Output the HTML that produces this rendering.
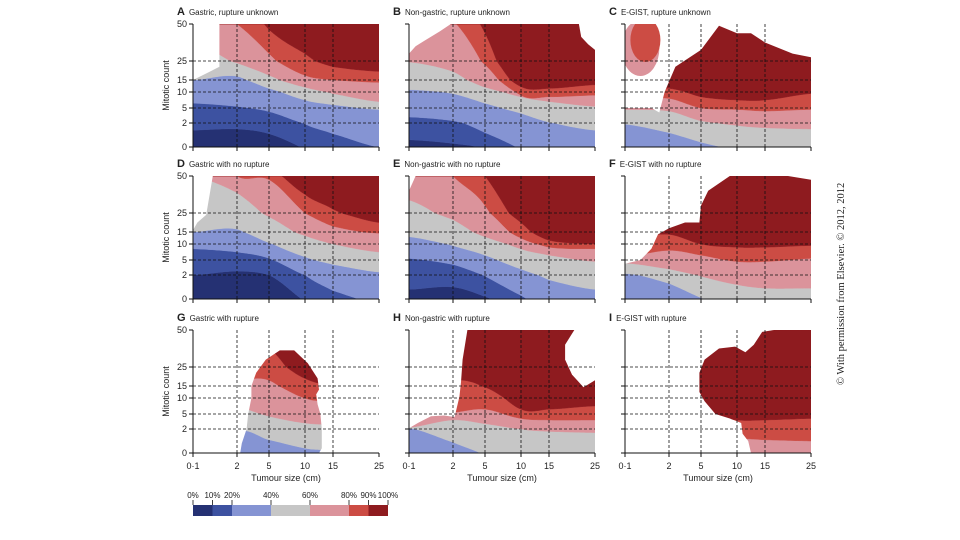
<!DOCTYPE html>
<html><head><meta charset="utf-8">
<style>
html,body{margin:0;padding:0;background:#fff;}
svg{display:block;font-family:"Liberation Sans",sans-serif;}
</style></head>
<body>
<svg id="fig" width="960" height="540" viewBox="0 0 960 540">
<g id="plots"></g>
<g id="legend"></g>
<text transform="translate(844,385) rotate(-90)" font-family="Liberation Serif, serif" font-size="10.5" fill="#222">© With permission from Elsevier.  © 2012, 2012</text>
</svg>
<script>
// x categories (tumour size) and y categories (mitotic count)
const xTickLabels = ["0·1","2","5","10","15","25"];
const yTickLabels = ["0","2","5","10","15","25","50"];
// risk thresholds and colours
const legendLabels = ["0%","10%","20%","40%","60%","80%","90%","100%"];
const legendStops = [0,10,20,40,60,80,90,100];
const bandColors = ["#253173","#3d52a1","#8594d3","#c6c6c6","#db939b","#cc4c44","#8e1b1f"];

// Boundary curves (mitotic-count index 0..6) at each tumour-size tick, for 10/20/40/60/80/90% thresholds
const boundsA = [[0.7,0.75,0.55,-0.1,-1,-1],[2.3,2.1,1.76,0.96,0.55,0],[4.0,4.2,3.3,2.5,2.2,1.9],[5.5,4.9,4.25,3.4,2.9,2.4],[6.5,6.0,5.2,4.25,4.0,3.8],[8,7,5.85,5.2,4.7,4.45]];
const boundsB = [[0.3,0.15,-0.1,-1,-1,-1],[1.4,1.15,0.6,-0.1,-1,-1],[3.2,2.9,2.3,1.65,1.05,0.7],[4.95,4.45,3.4,2.7,2.4,2.1],[6.5,6.1,4.8,2.8,2.7,2.8],[8,7,5.75,3.45,3.3,3.6]];
const boundsC = [[-1,-1,-1,-1,-1,-1],[-1,-1,-1,-1,-1,-1],[0.95,0.6,0.2,-0.2,-1,-1],[1.9,1.8,1.15,0.9,0.8,0.75],[2.6,2.6,2.0,1.9,1.8,1.9],[3.2,3.3,2.7,2.5,2.5,2.9]];
const boundsD = [[1.0,1.25,1.0,-0.1,-1,-1],[2.7,2.5,2.1,1.0,0.35,-0.2],[4.0,4.15,3.1,2.2,1.7,1.2],[6,5.55,4.8,3.7,3.0,2.5],[7,6.0,5.9,5.0,4.3,3.9],[8,7,6.3,5.5,5.1,4.5]];
const boundsE = [[0.4,0.5,0.1,-0.5,-1,-1],[2.1,1.7,0.95,0.15,-0.5,-1],[3.6,2.9,2.3,1.4,0.8,0.4],[5.35,4.65,3.6,2.7,2.3,1.9],[7,6.0,5.2,3.5,2.8,2.7],[8,7,6.0,4.5,3.3,3.0]];
const boundsF = [[-1,-1,-1,-1,-1,-1],[-1,-1,-1,-1,-1,-1],[1.1,0.65,0.05,-0.5,-1,-1],[1.8,1.4,0.95,0.6,0.45,0.45],[2.2,2.6,2.3,1.9,1.9,2.1],[3.5,3.8,3.0,2.8,2.8,2.9]];
const boundsG = [[-1,-1,-1,-1,-1,-1],[-1,-1,-1,-1,-1,-1],[-1,0.85,0.55,0.2,0,-1],[3,2.5,1.85,1.4,1.3,1.3],[5,4.4,4.3,3.0,2.8,2.6],[6,5.6,5.5,4.4,4.0,3.8]];
const boundsH = [[-1,-1,-1,-1,-1,-1],[-1,-1,-1,-1,-1,-1],[1.05,0.45,-0.1,-1,-1,-1],[1.1,1.6,1.35,1.0,0.9,0.85],[2,2.1,2.3,1.7,1.6,1.6],[3.5,4.3,3.9,2.3,2.3,2.5]];
const boundsI = [[-1,-1,-1,-1,-1,-1],[-1,-1,-1,-1,-1,-1],[-1,-1,-1,-1,-1,-1],[-1,-1,-1,-1,-1,-1],[0.5,0.5,0.5,0.6,0.55,0.5],[2,2,2.0,1.6,1.6,1.7]];

// white (no data) regions, [xIndex, yIndex]
const maskA = [[[0,6],[0.6,6],[0.6,4.7],[0.35,4.4],[0,4.0]]];
const maskB = [[[0,6],[0.95,6],[0.7,5.8],[0.35,5.55],[0.15,5.4],[0,5.2]],[[4.65,6],[5,6],[5,5.3],[4.85,5.45],[4.7,5.65]]];
const maskC = [[[0,2.0],[0,6],[5,6],[5,5.1],[4.6,5.2],[4.0,5.5],[3.5,5.75],[3.0,5.75],[2.5,5.95],[2.0,5.3],[1.2,4.7],[0.9,3.0],[0.78,1.7],[0.6,2.0]]];
const maskD = [[[0,6],[0.45,6],[0.3,4.9],[0.1,4.5],[0,4.1]]];
const maskE = [[[0,6],[0.15,6],[0,5.6]]];
const maskF = [[[0,1.75],[0,6],[5,6],[5,5.9],[4.5,6],[2.8,6],[2.2,5.6],[2.0,5.2],[1.95,4.5],[1.5,4.5],[1.0,4.2],[0.75,3.8],[0.6,2.7],[0.35,2.0]]];
const maskH = [[[0,6],[1.45,6],[1.3,5.2],[1.25,4.2],[1.2,3.1],[1.05,1.8],[0.8,1.9],[0.5,1.85],[0.2,1.4],[0,1.05]],[[4.55,6],[5,6],[5,4.3],[4.75,3.9],[4.5,4.6],[4.35,5.2],[4.35,5.6]]];
// data regions (clip) for G and I
const regionG = [[1.1,0],[1.15,0.4],[1.3,1.0],[1.35,2.0],[1.45,3.0],[1.45,4.0],[1.6,4.7],[1.9,5.2],[2.3,5.45],[2.7,5.45],[3.1,5.1],[3.45,4.4],[3.5,3.7],[3.4,3.3],[3.45,2.6],[3.55,2.0],[3.6,1.0],[3.6,0.2],[3.5,0]];
const regionI = [[1.95,4.7],[2.1,5.2],[2.5,5.5],[2.95,5.55],[3.3,5.4],[3.6,5.6],[3.9,5.95],[4.2,6],[5,6],[5,0],[3.5,0],[3.4,0.5],[3.2,0.8],[3.15,1.4],[2.8,1.7],[2.4,2.0],[2.1,2.8],[1.95,3.5]];

const panelLetters = ["A","B","C","D","E","F","G","H","I"];
const panelTitles = ["Gastric, rupture unknown","Non-gastric, rupture unknown","E-GIST, rupture unknown","Gastric with no rupture","Non-gastric with no rupture","E-GIST with no rupture","Gastric with rupture","Non-gastric with rupture","E-GIST with rupture"];
const panelBounds = [boundsA,boundsB,boundsC,boundsD,boundsE,boundsF,boundsG,boundsH,boundsI];
const panelMasks = [maskA,maskB,maskC,maskD,maskE,maskF,[],maskH,[]];
const panelRegions = [null,null,null,null,null,null,regionG,null,regionI];

const NS="http://www.w3.org/2000/svg";
function mk(tag,attrs,parent){const e=document.createElementNS(NS,tag);for(const k in attrs)e.setAttribute(k,attrs[k]);if(parent)parent.appendChild(e);return e;}
const colX=[193,409,625], rowY=[24,176,330], W=186, H=123;
const xOff=[0,44,76,112,140,186], yOff=[123,99,84,68,56,37,0];
function interp(arr,v){v=Math.max(0,Math.min(arr.length-1,v));const i=Math.min(arr.length-2,Math.floor(v));const f=v-i;return arr[i]+(arr[i+1]-arr[i])*f;}
function xScale(x0,xi){return x0+interp(xOff,xi);}
function yScale(y0,yi){return y0+interp(yOff,yi);}
// Catmull-Rom smooth interpolation through tick values
function curveAt(arr,xi){
  const n=arr.length;xi=Math.max(0,Math.min(n-1,xi));
  const i=Math.min(n-2,Math.floor(xi));const t=xi-i;
  const p0=arr[Math.max(0,i-1)],p1=arr[i],p2=arr[i+1],p3=arr[Math.min(n-1,i+2)];
  return 0.5*((2*p1)+(-p0+p2)*t+(2*p0-5*p1+4*p2-p3)*t*t+(-p0+3*p1-3*p2+p3)*t*t*t);
}
function ptsStr(x0,y0,pts){return pts.map(p=>xScale(x0,p[0]).toFixed(1)+","+yScale(y0,p[1]).toFixed(1)).join(" ");}

const plots=document.getElementById("plots");
const defs=mk("defs",{},document.getElementById("fig"));

for(let p=0;p<9;p++){
  const x0=colX[p%3], y0=rowY[Math.floor(p/3)];
  const g=mk("g",{},plots);
  
  
  const cp=mk("clipPath",{id:"clip"+p},defs);
  mk("rect",{x:x0,y:y0,width:W,height:H},cp);
  let target=mk("g",{"clip-path":"url(#clip"+p+")"},g);
  if(panelRegions[p]){
    const rp=mk("clipPath",{id:"reg"+p},defs);
    mk("polygon",{points:ptsStr(x0,y0,panelRegions[p])},rp);
    target=mk("g",{"clip-path":"url(#reg"+p+")"},target);
  }
  const b=panelBounds[p];
  const curves=[[-1,-1,-1,-1,-1,-1]].concat(b).concat([[8,8,8,8,8,8]]);
  for(let k=0;k<7;k++){
    const lo=[],hi=[];
    for(let s=0;s<=100;s++){
      const xi=s*0.05;
      const l=Math.max(0,Math.min(6,curveAt(curves[k],xi)));
      const u=Math.max(l,Math.max(0,Math.min(6,curveAt(curves[k+1],xi))));
      lo.push([xi,l]);hi.push([xi,u]);
    }
    const poly=mk("polygon",{points:ptsStr(x0,y0,lo.concat(hi.reverse())),fill:bandColors[k],stroke:bandColors[k],"stroke-width":0.4},target);
    
    
  }
  for(const m of panelMasks[p]){
    const w=mk("polygon",{points:ptsStr(x0,y0,m),fill:"#fff"},target);
    
    
  }
  if(p===2){ // upper-left blob in C
    const cx=xScale(x0,0.35), cy=yScale(y0,5.35);
    const e1=mk("ellipse",{cx:cx,cy:cy,rx:19,ry:28,fill:bandColors[4]},target);
    
    
    const e2=mk("ellipse",{cx:cx+5,cy:cy-8,rx:15,ry:22,fill:bandColors[5]},target);
    
    
  }
  // grid
  for(let i=1;i<5;i++){
    const gl=mk("line",{x1:xScale(x0,i),x2:xScale(x0,i),y1:y0,y2:y0+H,stroke:"#111","stroke-width":0.8,"stroke-dasharray":"3,2"},g);
    
    
  }
  for(let j=1;j<6;j++){
    const gl=mk("line",{x1:x0,x2:x0+W,y1:yScale(y0,j),y2:yScale(y0,j),stroke:"#111","stroke-width":0.8,"stroke-dasharray":"3,2"},g);
    
    
  }
  // axes
  const ya=mk("line",{x1:x0,x2:x0,y1:y0,y2:y0+H,stroke:"#111","stroke-width":1},g);
  
  
  const xa=mk("line",{x1:x0-3,x2:x0+W,y1:y0+H,y2:y0+H,stroke:"#111","stroke-width":1},g);
  
  
  for(let i=0;i<6;i++){
    const t=mk("line",{x1:xScale(x0,i),x2:xScale(x0,i),y1:y0+H,y2:y0+H+4,stroke:"#111","stroke-width":1},g);
    
    
    if(p>=6){
      const tl=mk("text",{x:xScale(x0,i),y:y0+H+16,"text-anchor":"middle","font-size":9,fill:"#222"},g);
      tl.textContent=xTickLabels[i];
      
      
    }
  }
  for(let j=0;j<7;j++){
    const t=mk("line",{x1:x0-4,x2:x0,y1:yScale(y0,j),y2:yScale(y0,j),stroke:"#111","stroke-width":1},g);
    
    
    if(p%3===0){
      const tl=mk("text",{x:x0-6,y:yScale(y0,j)+3,"text-anchor":"end","font-size":9,fill:"#222"},g);
      tl.textContent=yTickLabels[j];
      
      
    }
  }
  if(p%3===0){
    const yt=mk("text",{transform:"translate("+(x0-24)+","+(y0+H/2)+") rotate(-90)","text-anchor":"middle","font-size":9,fill:"#222"},g);
    yt.textContent="Mitotic count";
    
    
  }
  if(p>=6){
    const xt=mk("text",{x:x0+W/2,y:y0+H+28,"text-anchor":"middle","font-size":9,fill:"#222"},g);
    xt.textContent="Tumour size (cm)";
    
    
  }
  const tt=mk("text",{x:x0-16,y:y0-9,"font-size":8,fill:"#222"},g);
  
  
  const ts=mk("tspan",{"font-size":11,"font-weight":"bold"},tt);ts.textContent=panelLetters[p];
  const ts2=mk("tspan",{dx:4},tt);ts2.textContent=panelTitles[p];
}

// legend
const lg=document.getElementById("legend");
const lx0=193,lw=195;
function lx(v){return lx0+v/100*lw;}
for(let k=0;k<7;k++){
  const r=mk("rect",{x:lx(legendStops[k]),y:505,width:lx(legendStops[k+1])-lx(legendStops[k]),height:11,fill:bandColors[k]},lg);
  
  
}
for(let k=0;k<8;k++){
  const t=mk("line",{x1:lx(legendStops[k]),x2:lx(legendStops[k]),y1:500,y2:505,stroke:"#111","stroke-width":0.8},lg);
  
  
  const tl=mk("text",{x:lx(legendStops[k]),y:498,"text-anchor":"middle","font-size":8,fill:"#222"},lg);
  tl.textContent=legendLabels[k];
  
  
}
</script>
</body></html>
